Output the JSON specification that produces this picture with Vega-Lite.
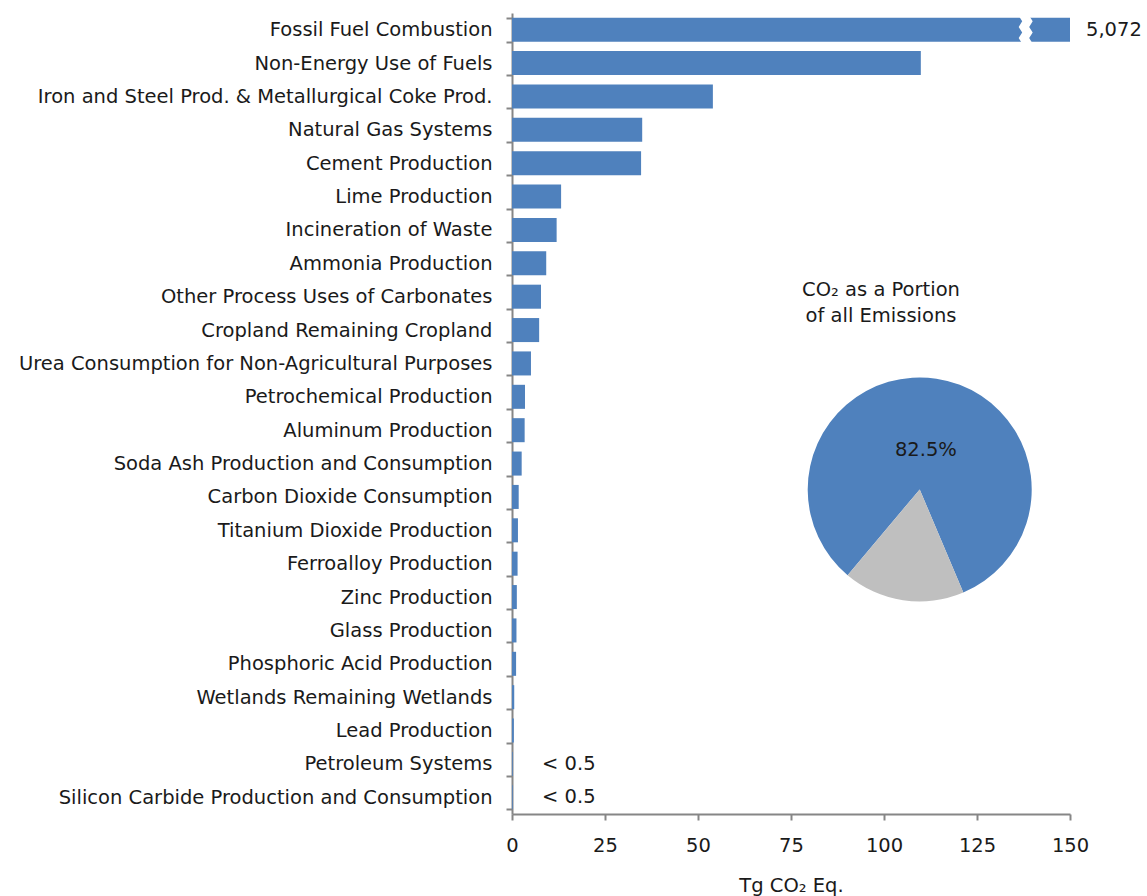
{
  "$schema": "https://vega.github.io/schema/vega-lite/v6.json",
  "width": 558,
  "height": 801,
  "autosize": {"type": "none"},
  "padding": {"left": 512, "top": 13, "right": 77, "bottom": 82},
  "background": "white",
  "config": {
    "view": {"stroke": null},
    "font": "DejaVu Sans",
    "text": {"font": "DejaVu Sans", "fontSize": 19.5, "color": "#1a1a1a"},
    "axis": {
      "labelFont": "DejaVu Sans",
      "titleFont": "DejaVu Sans",
      "labelFontSize": 19.5,
      "titleFontSize": 19.5,
      "labelColor": "#1a1a1a",
      "titleColor": "#1a1a1a",
      "titleFontWeight": "normal",
      "domainColor": "#868686",
      "tickColor": "#868686",
      "domainWidth": 2,
      "tickWidth": 2,
      "grid": false
    }
  },
  "datasets": {
    "bars": [
      {"source": "Fossil Fuel Combustion", "value": 5072},
      {"source": "Non-Energy Use of Fuels", "value": 109.9},
      {"source": "Iron and Steel Prod. & Metallurgical Coke Prod.", "value": 54.0},
      {"source": "Natural Gas Systems", "value": 35.0},
      {"source": "Cement Production", "value": 34.7},
      {"source": "Lime Production", "value": 13.2},
      {"source": "Incineration of Waste", "value": 12.0},
      {"source": "Ammonia Production", "value": 9.2},
      {"source": "Other Process Uses of Carbonates", "value": 7.8},
      {"source": "Cropland Remaining Cropland", "value": 7.3},
      {"source": "Urea Consumption for Non-Agricultural Purposes", "value": 5.1},
      {"source": "Petrochemical Production", "value": 3.5},
      {"source": "Aluminum Production", "value": 3.4},
      {"source": "Soda Ash Production and Consumption", "value": 2.6},
      {"source": "Carbon Dioxide Consumption", "value": 1.8},
      {"source": "Titanium Dioxide Production", "value": 1.6},
      {"source": "Ferroalloy Production", "value": 1.5},
      {"source": "Zinc Production", "value": 1.3},
      {"source": "Glass Production", "value": 1.2},
      {"source": "Phosphoric Acid Production", "value": 1.1},
      {"source": "Wetlands Remaining Wetlands", "value": 0.6},
      {"source": "Lead Production", "value": 0.5},
      {"source": "Petroleum Systems", "value": 0.2},
      {"source": "Silicon Carbide Production and Consumption", "value": 0.2}
    ],
    "pie": [
      {"part": "CO2", "share": 82.5, "ord": 1, "label": "82.5%"},
      {"part": "Other", "share": 17.5, "ord": 2, "label": ""}
    ]
  },
  "layer": [
    {
      "data": {"name": "bars"},
      "mark": {"type": "bar", "color": "#4F81BD", "clip": true},
      "encoding": {
        "y": {
          "field": "source", "type": "nominal", "sort": null,
          "scale": {"paddingInner": 0.28, "paddingOuter": 0.14},
          "axis": {
            "title": null, "tickBand": "extent", "tickSize": 6,
            "labelPadding": 14, "labelLimit": 0
          }
        },
        "x": {
          "field": "value", "type": "quantitative",
          "scale": {"domain": [0, 150], "nice": false, "clamp": false},
          "axis": {
            "title": "Tg CO₂ Eq.", "values": [0, 25, 50, 75, 100, 125, 150],
            "tickSize": 6, "labelPadding": 16, "titlePadding": 22,
            "labelFlush": false
          }
        }
      }
    },
    {
      "data": {"values": [{"source": "Fossil Fuel Combustion", "pos": 137.9}]},
      "mark": {
        "type": "point", "filled": true, "color": "white", "opacity": 1, "strokeWidth": 0, "size": 784,
        "shape": "M -0.45 -1 L -0.2 -0.6 L -0.45 -0.2 L -0.2 0.2 L -0.45 0.6 L -0.2 1 L 0.55 1 L 0.3 0.6 L 0.55 0.2 L 0.3 -0.2 L 0.55 -0.6 L 0.3 -1 Z"
      },
      "encoding": {
        "y": {"field": "source", "type": "nominal", "sort": null},
        "x": {"field": "pos", "type": "quantitative"}
      }
    },
    {
      "data": {"values": [
        {"source": "Fossil Fuel Combustion", "pos": 150, "txt": "5,072"}
      ]},
      "mark": {"type": "text", "align": "left", "baseline": "middle", "dx": 16},
      "encoding": {
        "y": {"field": "source", "type": "nominal", "sort": null},
        "x": {"field": "pos", "type": "quantitative"},
        "text": {"field": "txt"}
      }
    },
    {
      "data": {"values": [
        {"source": "Petroleum Systems", "pos": 0, "txt": "< 0.5"},
        {"source": "Silicon Carbide Production and Consumption", "pos": 0, "txt": "< 0.5"}
      ]},
      "mark": {"type": "text", "align": "left", "baseline": "middle", "dx": 30},
      "encoding": {
        "y": {"field": "source", "type": "nominal", "sort": null},
        "x": {"field": "pos", "type": "quantitative"},
        "text": {"field": "txt"}
      }
    },
    {
      "data": {"values": [{"source": "Other Process Uses of Carbonates", "pos": 99.2, "txt": ["CO₂ as a Portion", "of all Emissions"]}]},
      "mark": {"type": "text", "align": "center", "baseline": "middle", "dy": -7, "lineHeight": 26},
      "encoding": {
        "y": {"field": "source", "type": "nominal", "sort": null},
        "x": {"field": "pos", "type": "quantitative"},
        "text": {"field": "txt"}
      }
    },
    {
      "data": {"name": "pie"},
      "mark": {"type": "arc", "outerRadius": 112, "yOffset": -7.5},
      "encoding": {
        "x": {"datum": 109.6, "type": "quantitative"},
        "y": {"datum": "Carbon Dioxide Consumption", "type": "nominal"},
        "theta": {"field": "share", "type": "quantitative", "stack": true,
                  "scale": {"domain": [0, 100], "range": [-2.442, 3.841]}},
        "order": {"field": "ord"},
        "color": {"field": "part", "type": "nominal",
                  "scale": {"domain": ["CO2", "Other"], "range": ["#4F81BD", "#BFBFBF"]},
                  "legend": null}
      }
    },
    {
      "data": {"name": "pie"},
      "mark": {"type": "text", "radius": 41.6, "yOffset": -6, "align": "center", "baseline": "middle"},
      "encoding": {
        "x": {"datum": 109.6, "type": "quantitative"},
        "y": {"datum": "Carbon Dioxide Consumption", "type": "nominal"},
        "theta": {"field": "share", "type": "quantitative", "stack": true},
        "order": {"field": "ord"},
        "text": {"field": "label"}
      }
    }
  ]
}
